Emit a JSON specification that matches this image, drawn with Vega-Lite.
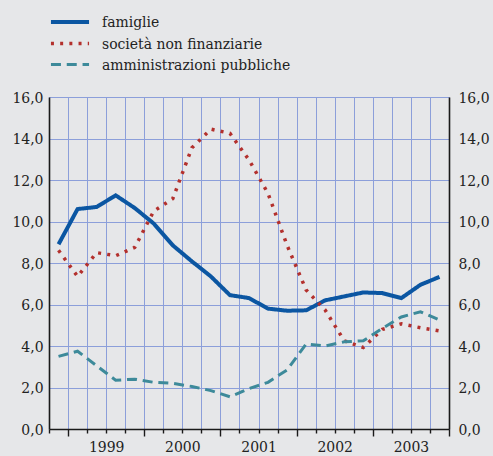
{
  "$schema": "https://vega.github.io/schema/vega-lite/v6.json",
  "width": 400,
  "height": 332,
  "autosize": "none",
  "padding": {"left": 49, "top": 97, "right": 44, "bottom": 27},
  "background": "#e6e7e9",
  "config": {
    "view": {"stroke": null},
    "font": "DejaVu Serif Condensed",
    "axis": {"labelFont": "DejaVu Serif Condensed", "labelFontSize": 15.5, "labelColor": "#222222", "domainColor": "#1a1a1a", "domainWidth": 1.6, "gridColor": "#8c9fda", "gridWidth": 1, "gridOpacity": 1, "tickColor": "#1a1a1a", "tickWidth": 1.4},
    "legend": {"labelFont": "DejaVu Serif Condensed", "labelFontSize": 15.5, "labelColor": "#222222", "labelLimit": 400}
  },
  "data": {
    "values": [
      {"q": 0.5, "s": "famiglie", "v": 8.9}, {"q": 1.5, "s": "famiglie", "v": 10.6}, {"q": 2.5, "s": "famiglie", "v": 10.7}, {"q": 3.5, "s": "famiglie", "v": 11.26}, {"q": 4.5, "s": "famiglie", "v": 10.65}, {"q": 5.5, "s": "famiglie", "v": 9.9}, {"q": 6.5, "s": "famiglie", "v": 8.85}, {"q": 7.5, "s": "famiglie", "v": 8.08}, {"q": 8.5, "s": "famiglie", "v": 7.35}, {"q": 9.5, "s": "famiglie", "v": 6.45}, {"q": 10.5, "s": "famiglie", "v": 6.31}, {"q": 11.5, "s": "famiglie", "v": 5.8}, {"q": 12.5, "s": "famiglie", "v": 5.7}, {"q": 13.5, "s": "famiglie", "v": 5.72}, {"q": 14.5, "s": "famiglie", "v": 6.2}, {"q": 15.5, "s": "famiglie", "v": 6.39}, {"q": 16.5, "s": "famiglie", "v": 6.58}, {"q": 17.5, "s": "famiglie", "v": 6.55}, {"q": 18.5, "s": "famiglie", "v": 6.31}, {"q": 19.5, "s": "famiglie", "v": 6.95}, {"q": 20.5, "s": "famiglie", "v": 7.33},
      {"q": 0.5, "s": "società non finanziarie", "v": 8.61}, {"q": 1.5, "s": "società non finanziarie", "v": 7.35}, {"q": 2.5, "s": "società non finanziarie", "v": 8.5}, {"q": 3.5, "s": "società non finanziarie", "v": 8.35}, {"q": 4.5, "s": "società non finanziarie", "v": 8.75}, {"q": 5.5, "s": "società non finanziarie", "v": 10.5}, {"q": 6.5, "s": "società non finanziarie", "v": 11.1}, {"q": 7.5, "s": "società non finanziarie", "v": 13.55}, {"q": 8.5, "s": "società non finanziarie", "v": 14.45}, {"q": 9.5, "s": "società non finanziarie", "v": 14.25}, {"q": 10.5, "s": "società non finanziarie", "v": 12.97}, {"q": 11.5, "s": "società non finanziarie", "v": 11.35}, {"q": 12.5, "s": "società non finanziarie", "v": 8.85}, {"q": 13.5, "s": "società non finanziarie", "v": 6.7}, {"q": 14.5, "s": "società non finanziarie", "v": 5.73}, {"q": 15.5, "s": "società non finanziarie", "v": 4.25}, {"q": 16.5, "s": "società non finanziarie", "v": 3.93}, {"q": 17.5, "s": "società non finanziarie", "v": 4.8}, {"q": 18.5, "s": "società non finanziarie", "v": 5.07}, {"q": 19.5, "s": "società non finanziarie", "v": 4.88}, {"q": 20.5, "s": "società non finanziarie", "v": 4.73},
      {"q": 0.5, "s": "amministrazioni pubbliche", "v": 3.5}, {"q": 1.5, "s": "amministrazioni pubbliche", "v": 3.75}, {"q": 2.5, "s": "amministrazioni pubbliche", "v": 3.05}, {"q": 3.5, "s": "amministrazioni pubbliche", "v": 2.35}, {"q": 4.5, "s": "amministrazioni pubbliche", "v": 2.4}, {"q": 5.5, "s": "amministrazioni pubbliche", "v": 2.25}, {"q": 6.5, "s": "amministrazioni pubbliche", "v": 2.2}, {"q": 7.5, "s": "amministrazioni pubbliche", "v": 2.05}, {"q": 8.5, "s": "amministrazioni pubbliche", "v": 1.85}, {"q": 9.5, "s": "amministrazioni pubbliche", "v": 1.55}, {"q": 10.5, "s": "amministrazioni pubbliche", "v": 1.95}, {"q": 11.5, "s": "amministrazioni pubbliche", "v": 2.25}, {"q": 12.5, "s": "amministrazioni pubbliche", "v": 2.85}, {"q": 13.5, "s": "amministrazioni pubbliche", "v": 4.1}, {"q": 14.5, "s": "amministrazioni pubbliche", "v": 4.0}, {"q": 15.5, "s": "amministrazioni pubbliche", "v": 4.2}, {"q": 16.5, "s": "amministrazioni pubbliche", "v": 4.25}, {"q": 17.5, "s": "amministrazioni pubbliche", "v": 4.85}, {"q": 18.5, "s": "amministrazioni pubbliche", "v": 5.4}, {"q": 19.5, "s": "amministrazioni pubbliche", "v": 5.65}, {"q": 20.5, "s": "amministrazioni pubbliche", "v": 5.25}
    ]
  },
  "encoding": {
    "x": {
      "field": "q", "type": "quantitative",
      "scale": {"domain": [0, 21], "nice": false, "zero": false},
      "axis": {
        "title": null,
        "values": [0,1,2,3,4,5,6,7,8,9,10,11,12,13,14,15,16,17,18,19,20,21],
        "grid": true,
        "domain": true,
        "ticks": true,
        "tickSize": {"condition": {"test": "(datum.value - 1) % 4 == 0", "value": 7}, "value": 4},
        "labelPadding": 6,
        "labelFlush": false,
        "labelOverlap": false,
        "labelExpr": "(datum.value - 3) % 4 == 0 ? toString(1999 + (datum.value - 3) / 4) : ''"
      }
    },
    "color": {
      "field": "s", "type": "nominal",
      "scale": {"domain": ["famiglie", "società non finanziarie", "amministrazioni pubbliche"], "range": ["#0b56a2", "#b3302d", "#3d8a9a"]},
      "legend": {
        "title": null, "orient": "none", "legendX": 10, "legendY": -86,
        "symbolType": "M-2.2,0H2.2", "symbolSize": 300, "labelOffset": 21, "rowPadding": 2
      }
    },
    "strokeDash": {
      "field": "s", "type": "nominal",
      "scale": {"domain": ["famiglie", "società non finanziarie", "amministrazioni pubbliche"], "range": [[1, 0], [3, 6.2], [10, 5.8]]},
      "legend": {
        "title": null, "orient": "none", "legendX": 10, "legendY": -86,
        "symbolType": "M-2.2,0H2.2", "symbolSize": 300, "labelOffset": 21, "rowPadding": 2
      }
    },
    "strokeWidth": {
      "field": "s", "type": "nominal",
      "scale": {"domain": ["famiglie", "società non finanziarie", "amministrazioni pubbliche"], "range": [4, 3, 4]},
      "legend": {
        "title": null, "orient": "none", "legendX": 10, "legendY": -86,
        "symbolType": "M-2.2,0H2.2", "symbolSize": 300, "labelOffset": 21, "rowPadding": 2
      }
    }
  },
  "layer": [
    {
      "transform": [{"filter": "datum.s != 'amministrazioni pubbliche'"}],
      "mark": {"type": "line", "strokeCap": "butt", "strokeJoin": "miter"},
      "encoding": {
        "y": {
          "field": "v", "type": "quantitative",
          "scale": {"domain": [0, 16], "nice": false, "zero": true},
          "axis": {"title": null, "orient": "left", "values": [0,2,4,6,8,10,12,14,16], "grid": true, "ticks": false, "labelPadding": 6, "labelExpr": "replace(format(datum.value, '.1f'), '.', ',')"}
        }
      }
    },
    {
      "transform": [{"filter": "datum.s == 'amministrazioni pubbliche'"}],
      "mark": {"type": "line", "strokeCap": "butt", "strokeJoin": "miter"},
      "encoding": {
        "y": {
          "field": "v", "type": "quantitative",
          "scale": {"domain": [0, 16], "nice": false, "zero": true},
          "axis": {"title": null, "orient": "right", "values": [0,2,4,6,8,10,12,14,16], "grid": false, "ticks": false, "labelPadding": 9, "labelExpr": "replace(format(datum.value, '.1f'), '.', ',')"}
        }
      }
    }
  ],
  "resolve": {"scale": {"y": "independent"}, "axis": {"y": "independent"}}
}
